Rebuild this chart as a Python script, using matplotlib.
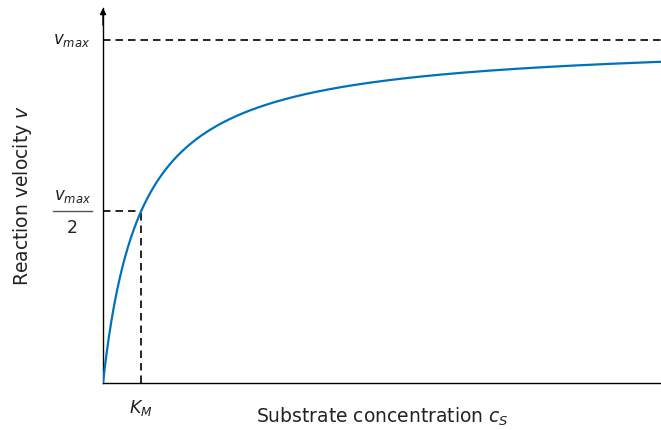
import numpy as np
import matplotlib
matplotlib.use('Agg')
import matplotlib.pyplot as plt

plt.rcParams['font.family'] = 'DejaVu Sans'
plt.rcParams['mathtext.fontset'] = 'dejavusans'

# Michaelis-Menten parameters (normalised units)
v_max = 1.0
K_M = 1.0
c_end = 14.68
v_top = 1.093

cs = np.linspace(0, c_end, 600)
vv = v_max * cs / (K_M + cs)

fig = plt.figure(figsize=(6.61, 4.30), dpi=100)
ax = fig.add_axes([103/661, 47/430, 558/661, 375/430])

ax.plot(cs, vv, color='#0072BD', lw=1.6, zorder=3)

# guide lines for v_max and the half-saturation point
dash = dict(color='black', lw=1.2, ls=(0, (4.5, 3.0)))
ax.plot([0, c_end], [v_max, v_max], **dash)
ax.plot([0, K_M], [v_max/2, v_max/2], **dash)
ax.plot([K_M, K_M], [0, v_max/2], **dash)

ax.set_xlim(0, c_end)
ax.set_ylim(0, v_top)
for s in ['top', 'right']:
    ax.spines[s].set_visible(False)
ax.spines['left'].set_linewidth(1.0)
ax.spines['bottom'].set_linewidth(1.0)
ax.set_xticks([])
ax.set_yticks([])

# arrow head on the y axis
ax.annotate('', xy=(0, v_top), xytext=(0, v_top - 0.05),
            arrowprops=dict(arrowstyle='-|>', color='black', lw=1.0,
                            mutation_scale=9, shrinkA=0, shrinkB=0),
            annotation_clip=False)

tc = '#222222'
ax.text(-0.33, v_max, r'$v_{max}$', ha='right', va='center', fontsize=12, color=tc)

# v_max / 2 written as a stacked fraction
ax.text(-0.8, v_max/2 + 0.044, r'$v_{max}$', ha='center', va='center', fontsize=12, color=tc)
ax.plot([-1.32, -0.29], [v_max/2, v_max/2], color='#555555', lw=1.0, clip_on=False)
ax.text(-0.8, v_max/2 - 0.047, '2', ha='center', va='center', fontsize=12.5, color=tc)

ax.text(K_M, -0.045, r'$K_M$', ha='center', va='top', fontsize=12.5, color=tc)

ax.set_xlabel(r'Substrate concentration $c_S$', fontsize=13.5, color=tc, labelpad=16)
ax.set_ylabel(r'Reaction velocity $v$', fontsize=13.5, color=tc, labelpad=50)

fig.savefig('out.png', dpi=100)
